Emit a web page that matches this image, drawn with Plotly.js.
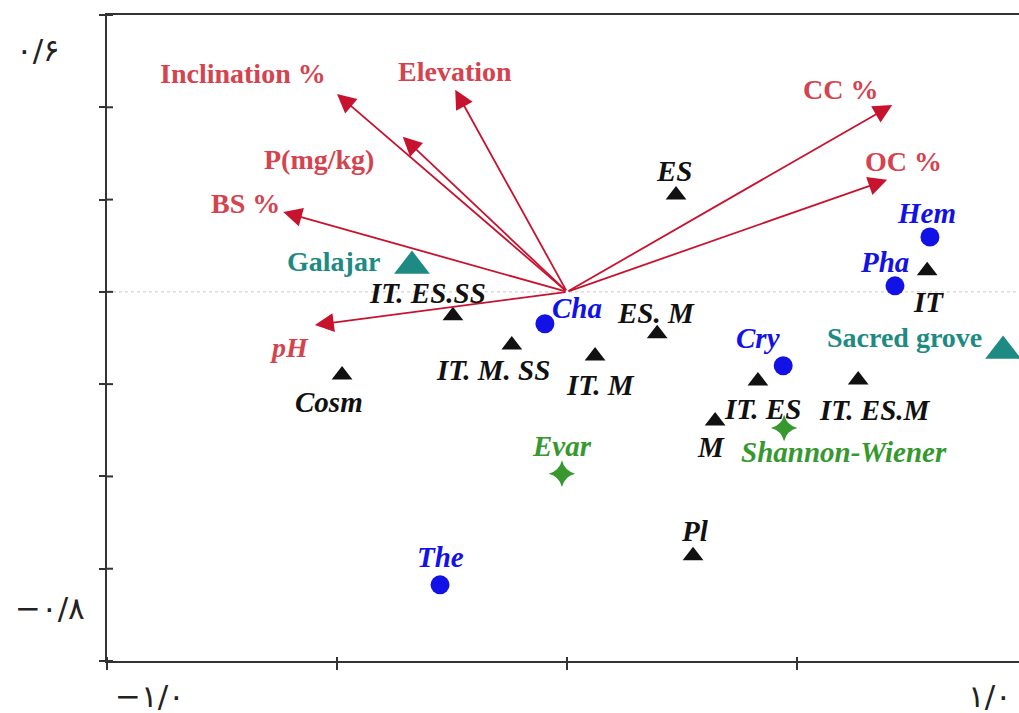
<!DOCTYPE html>
<html>
<head>
<meta charset="utf-8">
<script src="https://cdn.plot.ly/plotly-3.0.1.min.js"></script>
<style>html,body{margin:0;padding:0;background:#fff;}#chart{width:1019px;height:713px;}</style>
</head>
<body>
<div id="chart"></div>
<script>
// ---- Data ----
// Environmental variables (arrow tips, arrows start at the origin)
const envNames = ["Inclination %", "Elevation", "P(mg/kg)", "BS %", "pH", "CC %", "OC %"];
const envX = [-0.500, -0.243, -0.357, -0.617, -0.548, 0.707, 0.696];
const envY = [0.429, 0.438, 0.336, 0.173, -0.072, 0.405, 0.243];

// Chorotypes (black triangles)
const chorNames = ["ES", "IT", "IT. ES.SS", "IT. M. SS", "IT. M", "ES. M", "Cosm", "IT. ES", "IT. ES.M", "M", "Pl"];
const chorX = [0.237, 0.783, -0.248, -0.120, 0.061, 0.196, -0.489, 0.415, 0.633, 0.322, 0.274];
const chorY = [0.210, 0.046, -0.052, -0.115, -0.139, -0.091, -0.180, -0.193, -0.191, -0.280, -0.572];

// Life forms (blue circles)
const lifeNames = ["Hem", "Pha", "Cha", "Cry", "The"];
const lifeX = [0.789, 0.713, -0.048, 0.470, -0.276];
const lifeY = [0.119, 0.013, -0.069, -0.160, -0.635];

// Diversity indices (green stars)
const divNames = ["Evar", "Shannon-Wiener"];
const divX = [-0.011, 0.472];
const divY = [-0.394, -0.295];

// Sites (teal triangles)
const siteNames = ["Galajar", "Sacred grove"];
const siteX = [-0.337, 0.948];
const siteY = [0.056, -0.128];

// Axis ticks and tick labels (Persian numerals)
const xTicks = [-1.0, -0.5, 0, 0.5];
const yTicks = [-0.8, -0.6, -0.4, -0.2, 0, 0.2, 0.4, 0.6];
const yTickText = ["۰/۶", "−۰/۸"];
const xTickText = ["−۱/۰", "۱/۰"];

// ---- Styles ----
const FONT = "Liberation Serif, Times New Roman, serif";
const RED_LINE = "#c8132f", RED_TXT = "#d4434e";
const BLUE = "#1212e6", GREEN = "#36982f", TEAL = "#1d8a83", BLACK = "#111111";
const AXIS = "#333";

// label offsets in pixels [xshift, yshift]
const envShift = [[-94, 20], [0, 18], [-84, -23], [-38, 9], [-25, -22], [-52, 15], [16, 18]];
const chorShift = [[-2, 24], [1, -31], [-25, 23], [-19, -25], [5, -29], [-1, 21], [-13, -27], [5, -28], [17, -30], [-4, -26], [2, 25]];
const lifeShift = [[-3, 24], [-10, 24], [32, 16], [-25, 28], [0, 28]];
const divShift = [[0, 28], [60, -24]];
const siteShift = [[-78, 5], [-99, 13]];

const traces = [
  {x: chorX, y: chorY, type: "scatter", mode: "markers", hoverinfo: "text", text: chorNames,
   marker: {symbol: "triangle-up", size: 18, color: BLACK}, cliponaxis: false},
  {x: lifeX, y: lifeY, type: "scatter", mode: "markers", hoverinfo: "text", text: lifeNames,
   marker: {symbol: "circle", size: 19, color: BLUE}, cliponaxis: false},
  {x: divX, y: divY, type: "scatter", mode: "markers", hoverinfo: "text", text: divNames,
   marker: {symbol: "star-diamond", size: 19, color: GREEN}, cliponaxis: false},
  {x: siteX, y: siteY, type: "scatter", mode: "markers", hoverinfo: "text", text: siteNames,
   marker: {symbol: "triangle-up", size: 31, color: TEAL}, cliponaxis: false}
];

const annotations = [];
envNames.forEach((n, i) => {
  annotations.push({x: envX[i], y: envY[i], ax: 0, ay: 0, xref: "x", yref: "y", axref: "x", ayref: "y",
    text: "", showarrow: true, arrowhead: 2, arrowsize: 2.1, arrowwidth: 1.8, arrowcolor: RED_LINE, standoff: 0});
  const italic = n === "pH";
  annotations.push({x: envX[i], y: envY[i], xref: "x", yref: "y", showarrow: false,
    xshift: envShift[i][0], yshift: envShift[i][1],
    text: italic ? "<b><i>" + n + "</i></b>" : "<b>" + n + "</b>",
    font: {family: FONT, size: 28, color: RED_TXT}});
});
function addLabels(names, xs, ys, shifts, color, italic, size) {
  names.forEach((n, i) => {
    annotations.push({x: xs[i], y: ys[i], xref: "x", yref: "y", showarrow: false,
      xshift: shifts[i][0], yshift: shifts[i][1],
      text: italic ? "<b><i>" + n + "</i></b>" : "<b>" + n + "</b>",
      font: {family: FONT, size: size, color: color}});
  });
}
addLabels(chorNames, chorX, chorY, chorShift, BLACK, true, 29);
addLabels(lifeNames, lifeX, lifeY, lifeShift, BLUE, true, 29);
addLabels(divNames, divX, divY, divShift, GREEN, true, 29);
addLabels(siteNames, siteX, siteY, siteShift, TEAL, false, 28);

// Persian tick labels
const tickFont = {family: "DejaVu Sans, Noto Sans, sans-serif", size: 31, color: "#222"};
const tickAnn = (x, y, t) => ({xref: "paper", yref: "paper", x: x, y: y, xanchor: "center", yanchor: "middle",
  text: t, showarrow: false, font: tickFont});
annotations.push(tickAnn(-0.0757, 0.946, yTickText[0]));
annotations.push(tickAnn(-0.0625, 0.082, yTickText[1]));
annotations.push(tickAnn(0.047, -0.054, xTickText[0]));
annotations.push(tickAnn(0.968, -0.054, xTickText[1]));

const xRange = [-1.0, 0.9826];
const yRange = [-0.8, 0.6];

// inner halves of the crossing tick marks, built from the tick arrays
const PLOT_W = 912, PLOT_H = 646;
const tickShapes = [];
yTicks.forEach(v => tickShapes.push({type: "line", xref: "paper", yref: "y", x0: 0, x1: 6 / PLOT_W, y0: v, y1: v,
  line: {color: AXIS, width: 2}}));
xTicks.forEach(v => tickShapes.push({type: "line", xref: "x", yref: "paper", x0: v, x1: v, y0: 0, y1: 4 / PLOT_H,
  line: {color: AXIS, width: 2}}));

const layout = {
  width: 1019, height: 713,
  margin: {l: 107, r: 0, t: 15, b: 52},
  paper_bgcolor: "#fff", plot_bgcolor: "#fff",
  showlegend: false,
  xaxis: {range: xRange, showgrid: false, zeroline: false, showline: true, linecolor: AXIS, linewidth: 2,
    mirror: true, ticks: "outside", ticklen: 7, tickwidth: 2, tickcolor: AXIS, tickvals: xTicks,
    showticklabels: false, fixedrange: true},
  yaxis: {range: yRange, showgrid: false, zeroline: false, showline: true, linecolor: AXIS, linewidth: 2,
    ticks: "outside", ticklen: 6, tickwidth: 2, tickcolor: AXIS, tickvals: yTicks,
    showticklabels: false, fixedrange: true},
  shapes: [{type: "line", xref: "paper", yref: "y", x0: 0, x1: 1, y0: 0, y1: 0,
    line: {color: "#c8c8c8", width: 1, dash: "dot"}, layer: "below"}].concat(tickShapes),
  annotations: annotations
};

Plotly.newPlot("chart", traces, layout, {displayModeBar: false, staticPlot: true});
</script>
</body>
</html>
